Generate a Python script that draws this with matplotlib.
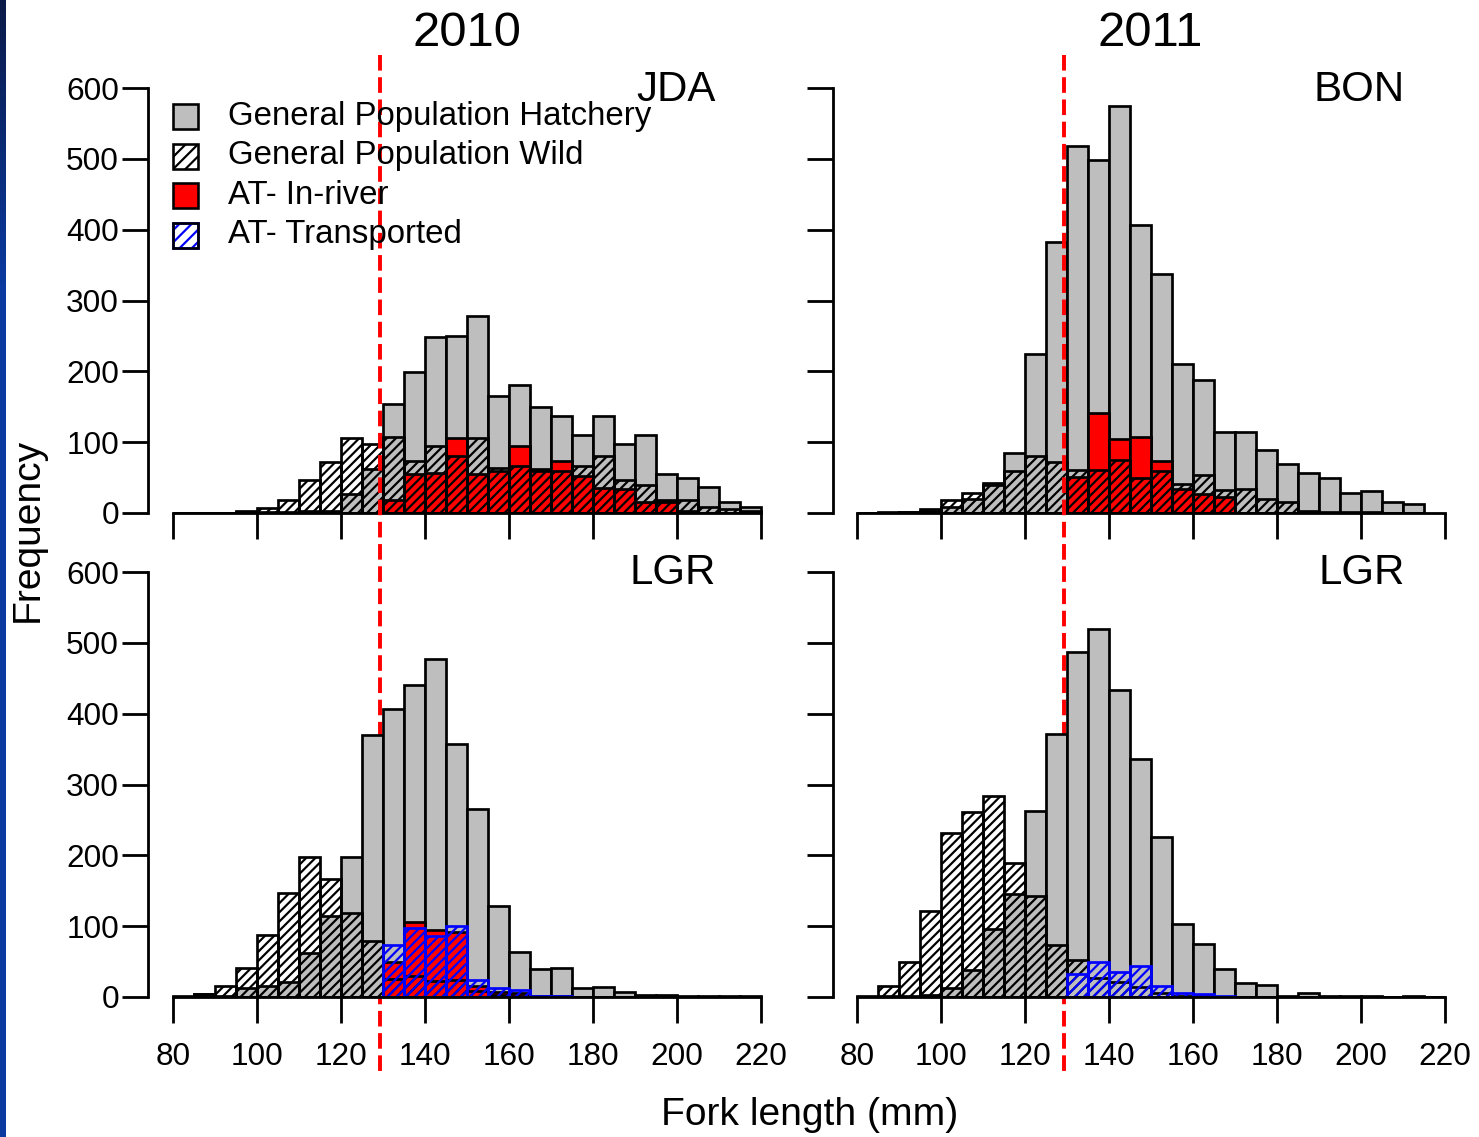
import numpy as np
import matplotlib
matplotlib.use('Agg')
import matplotlib.pyplot as plt
from matplotlib.patches import Rectangle
from matplotlib.transforms import blended_transform_factory
from matplotlib.colors import LinearSegmentedColormap

DPI = 110  # hatch spacing in matplotlib is tied to dpi


def P(px):
    # pixel size -> points
    return px * 72 / DPI


plt.rcParams['font.family'] = ['Liberation Sans', 'DejaVu Sans']
plt.rcParams['hatch.linewidth'] = P(2.2)

nan = np.nan
# 5 mm bins from 80 to 220
bin_edges = np.arange(80, 221, 5)

# 2010 JDA
hatch_jda10 = [0, 0, 0, 2, 2, 2, 3, 3, 27, 62, 154, 199, 248, 250, 278, 165, 181, 150,
               137, 110, 137, 97, 110, 55, 49, 37, 15, 9]
wild_jda10 = [0, 0, 0, 3, 7, 19, 47, 72, 106, 98, 107, 73, 95, 80, 106, 63, 66, 60,
              59, 67, 80, 46, 40, 19, 18, 9, 5, 3]
inriver_jda10 = [nan, nan, nan, nan, nan, nan, nan, nan, nan, nan, 18, 55, 57, 106, 55, 60,
                 94, 62, 73, 52, 36, 34, 15, 15, 3, nan, nan, nan]

# 2011 BON
hatch_bon11 = [0, 1, 2, 5, 8, 20, 43, 85, 225, 382, 518, 498, 575, 407, 337, 211, 188, 114,
               114, 89, 69, 57, 49, 28, 31, 16, 13, nan]
wild_bon11 = [0, 0, 1, 3, 19, 28, 39, 60, 80, 72, 61, 61, 75, 49, 60, 41, 53, 32,
              34, 20, 15, 3, 2, 1, 1, 0, 0, nan]
inriver_bon11 = [nan, nan, nan, nan, nan, nan, nan, nan, nan, nan, 51, 141, 104, 107, 74, 34,
                 27, 22, nan, nan, nan, nan, nan, nan, nan, nan, nan, nan]

# 2010 LGR
hatch_lgr10 = [0, 4, 2, 13, 15, 21, 62, 114, 197, 370, 407, 441, 477, 357, 266, 129, 64, 40,
               41, 13, 14, 7, 3, 3, 2, 1, 1, 1]
wild_lgr10 = [1, 4, 15, 41, 88, 147, 197, 166, 119, 79, 25, 29, 22, 24, 8, 3, 2, 1,
              1, 0, 0, 0, 0, 0, 0, 0, 0, 0]
inriver_lgr10 = [nan, nan, nan, nan, nan, nan, nan, nan, nan, nan, 50, 106, 95, 92, 15, 7,
                 5, 1, 1, nan, nan, nan, nan, nan, nan, nan, nan, nan]
transported_lgr10 = [nan, nan, nan, nan, nan, nan, nan, nan, nan, nan, 73, 98, 86, 100, 24, 13,
                     10, 2, 2, nan, nan, nan, nan, nan, nan, nan, nan, nan]

# 2011 LGR
hatch_lgr11 = [2, 2, 2, 3, 13, 38, 96, 146, 263, 371, 487, 519, 433, 336, 226, 103, 75, 40,
               20, 17, 2, 5, 2, 1, 1, 0, 1, 0]
wild_lgr11 = [0, 16, 49, 121, 232, 261, 284, 189, 143, 73, 52, 27, 21, 14, 5, 2, 1, 0,
              0, 0, 0, 0, 0, 0, 0, 0, 0, 0]
transported_lgr11 = [nan, nan, nan, nan, nan, nan, nan, nan, nan, nan, 32, 50, 35, 44, 15, 6,
                     4, 2, nan, nan, nan, nan, nan, nan, nan, nan, nan, nan]

years = ['2010', '2011']
sites = [['JDA', 'BON'], ['LGR', 'LGR']]
cutoff = 129.2

legend_labels = ['General Population Hatchery', 'General Population Wild',
                 'AT- In-river', 'AT- Transported']

W, H = 1479, 1137
fig = plt.figure(figsize=(W / DPI, H / DPI), dpi=DPI)


def fx(px):
    return px / W


def fy(py):
    return 1 - py / H


gray = '#bebebe'
lw_bar = P(2.7)
lw_axis = P(2.8)
hatch_bars = '////'


def draw_bars(ax, vals, **kw):
    vals = np.asarray(vals, dtype=float)
    ok = ~np.isnan(vals)
    ax.bar(bin_edges[:-1][ok], vals[ok], width=5, align='edge', **kw)


panels = [
    (0, 0, hatch_jda10, wild_jda10, inriver_jda10, None),
    (0, 1, hatch_bon11, wild_bon11, inriver_bon11, None),
    (1, 0, hatch_lgr10, wild_lgr10, inriver_lgr10, transported_lgr10),
    (1, 1, hatch_lgr11, wild_lgr11, None, transported_lgr11),
]

for r, c, hat, wild, inr, tra in panels:
    left_px = 148 if c == 0 else 833
    x80_px = 173 if c == 0 else 857
    bottom_px = 513 if r == 0 else 997
    ax = fig.add_axes([fx(left_px), fy(bottom_px), fx(627), 425 / H])
    ppm = 4.2
    ax.set_xlim(80 - (x80_px - left_px) / ppm, 80 + (left_px + 627 - x80_px) / ppm)
    ax.set_ylim(0, 600)

    draw_bars(ax, hat, color=gray, edgecolor='black', linewidth=lw_bar, zorder=2)
    if inr is not None:
        draw_bars(ax, inr, color='red', edgecolor='black', linewidth=lw_bar, zorder=3)
    draw_bars(ax, wild, facecolor='none', edgecolor='black', hatch=hatch_bars,
              linewidth=lw_bar, zorder=4)
    if tra is not None:
        draw_bars(ax, tra, facecolor='none', edgecolor='blue', hatch=hatch_bars,
                  linewidth=lw_bar, zorder=5)

    for s in ['top', 'right']:
        ax.spines[s].set_visible(False)
    ax.spines['left'].set_bounds(0, 600)
    ax.spines['bottom'].set_bounds(80, 220)
    for s in ['left', 'bottom']:
        ax.spines[s].set_linewidth(lw_axis)
        ax.spines[s].set_zorder(6)
    ax.set_xticks(np.arange(80, 221, 20))
    ax.set_yticks(np.arange(0, 601, 100))
    ax.tick_params(axis='both', direction='out', length=P(26), width=lw_axis,
                   labelsize=P(31.5))
    ax.tick_params(axis='y', pad=P(3))
    ax.tick_params(axis='x', pad=P(19))
    if r == 0:
        ax.set_xticklabels([])
    if c == 1:
        ax.set_yticklabels([])
    ax.patch.set_visible(False)

    # site label in the corner
    lab_right = (716 if c == 0 else 1405)
    lab_y = 90 if r == 0 else 573
    fig.text(fx(lab_right), fy(lab_y), sites[r][c], ha='right', va='center',
             fontsize=P(42))

    # cutoff line through both rows
    if r == 0:
        tr = blended_transform_factory(ax.transData, fig.transFigure)
        ax.plot([cutoff, cutoff], [fy(55), fy(1077)], transform=tr, color='red',
                linestyle=(0, (4, 1.7)), linewidth=P(3.9), clip_on=False, zorder=20)

# years
fig.text(fx(467), fy(33), years[0], ha='center', va='center', fontsize=P(49))
fig.text(fx(1150), fy(33), years[1], ha='center', va='center', fontsize=P(49))

# axis titles
fig.text(fx(28), fy(530), 'Frequency', rotation=90, ha='center', va='center',
         fontsize=P(39))
fig.text(fx(810), fy(1115), 'Fork length (mm)', ha='center', va='center',
         fontsize=P(39))

# legend
box = 25
rows_y = [116, 156, 195, 235]
styles = [dict(facecolor=gray, edgecolor='black'),
          dict(facecolor='white', edgecolor='black', hatch='///'),
          dict(facecolor='red', edgecolor='black'),
          dict(facecolor='white', edgecolor='blue', hatch='///')]
for yc, lab, st in zip(rows_y, legend_labels, styles):
    rect = Rectangle((fx(173), fy(yc + box / 2)), fx(box), box / H,
                     transform=fig.transFigure, linewidth=P(2.6), zorder=10, **st)
    fig.add_artist(rect)
    if st.get('edgecolor') == 'blue':
        fig.add_artist(Rectangle((fx(173), fy(yc + box / 2)), fx(box), box / H,
                                 transform=fig.transFigure, facecolor='none',
                                 edgecolor='black', linewidth=P(2.6), zorder=11))
    fig.text(fx(228), fy(yc), lab, ha='left', va='center', fontsize=P(33), zorder=12)

# blue strip at the left edge
cmap = LinearSegmentedColormap.from_list('edge', [(0, '#0a1a48'), (0.25, '#0b3aa0'),
                                                  (1, '#0b3aa0')])
sax = fig.add_axes([0, 0, fx(6), 1])
sax.imshow(np.linspace(0, 1, 256).reshape(-1, 1), aspect='auto', cmap=cmap)
sax.axis('off')

fig.savefig('out.png', dpi=DPI)
